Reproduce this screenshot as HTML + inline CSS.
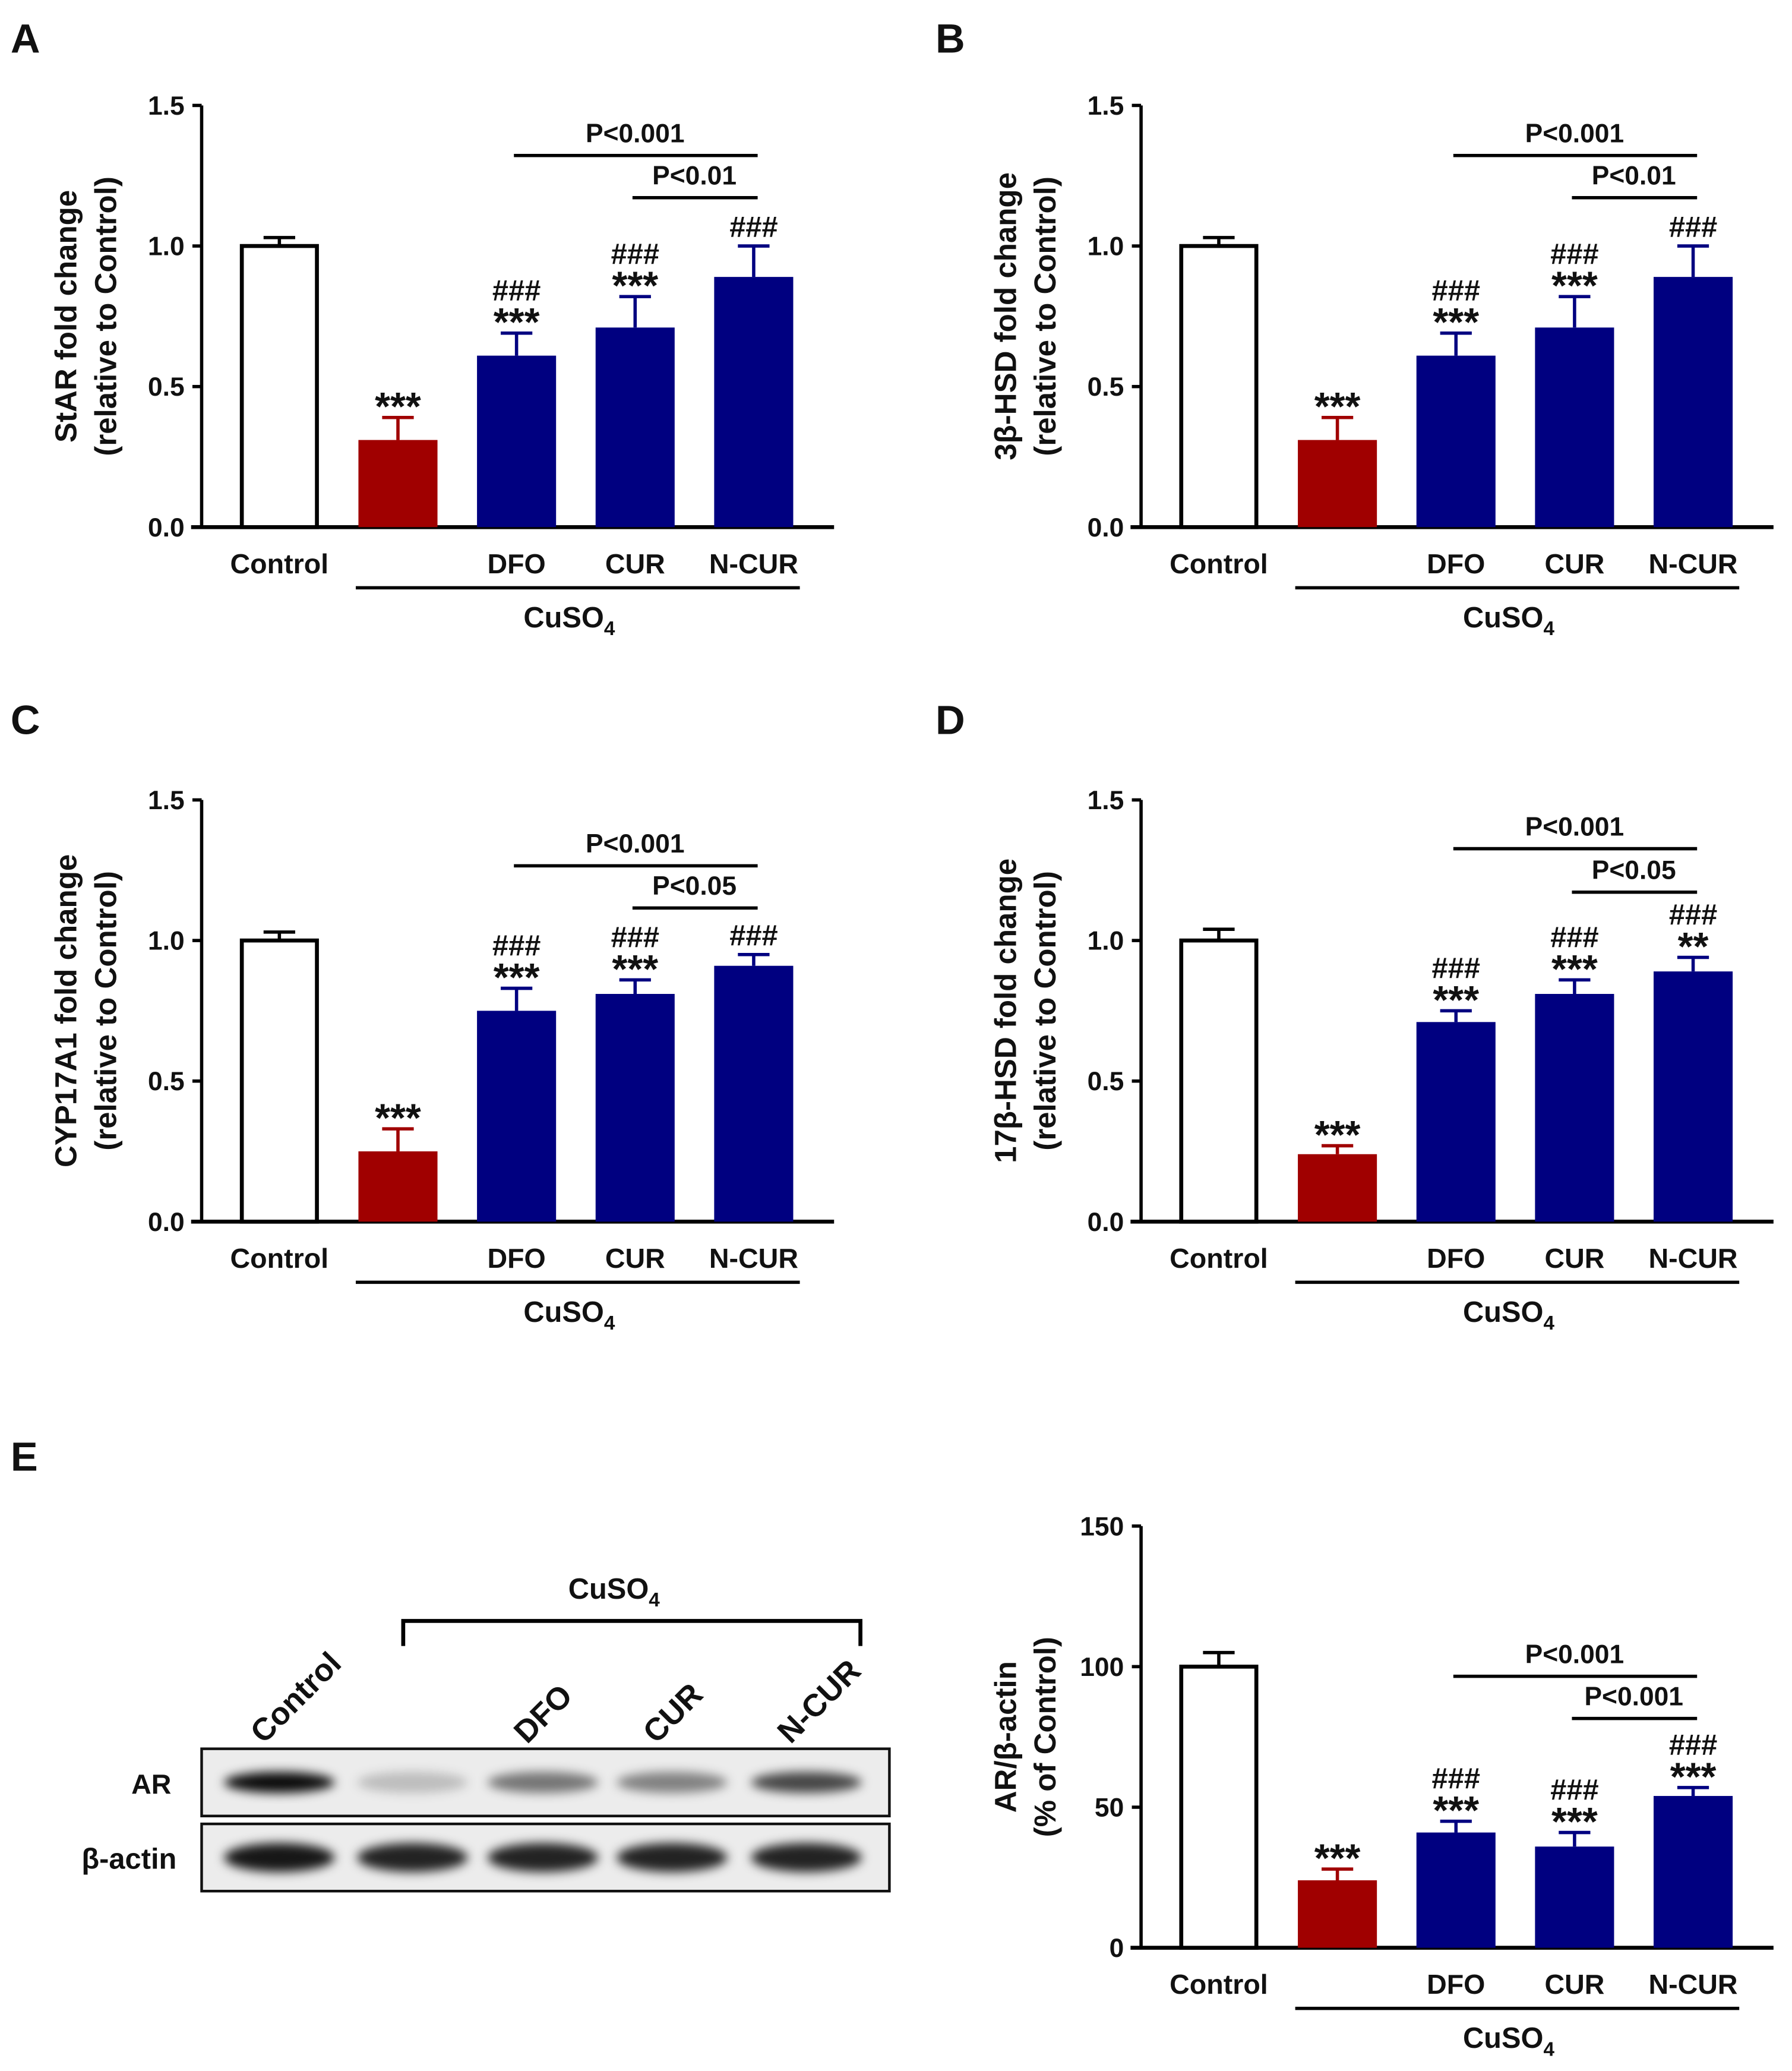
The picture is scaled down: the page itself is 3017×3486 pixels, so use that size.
<!DOCTYPE html>
<html><head><meta charset="utf-8"><style>
html,body{margin:0;padding:0;background:#fff}
svg{display:block}
text{font-family:"Liberation Sans",Arial,sans-serif;font-weight:bold;fill:#111}
</style></head><body>
<svg id="fig" xmlns="http://www.w3.org/2000/svg" width="3017" height="3486" viewBox="0 0 1360 1571.5">
<rect width="1360" height="1571.5" fill="#fff"/>
</svg>
<script>
const categories = ["Control","","DFO","CUR","N-CUR"];
const valuesA = [1.0,0.31,0.61,0.71,0.89];
const errorsA = [0.03,0.08,0.08,0.11,0.11];
const valuesB = [1.0,0.31,0.61,0.71,0.89];
const errorsB = [0.03,0.08,0.08,0.11,0.11];
const valuesC = [1.0,0.25,0.75,0.81,0.91];
const errorsC = [0.03,0.08,0.08,0.05,0.04];
const valuesD = [1.0,0.24,0.71,0.81,0.89];
const errorsD = [0.04,0.03,0.04,0.05,0.05];
const valuesE = [100,24,41,36,54];
const errorsE = [5,4,4,5,3];
const starsA = ["","***","***","***",""];
const hashA = ["","","###","###","###"];
const starsC = ["","***","***","***",""];
const hashC = ["","","###","###","###"];
const starsD = ["","***","***","***","**"];
const hashD = ["","","###","###","###"];
const starsE = ["","***","***","***","***"];
const hashE = ["","","###","###","###"];
const ticksFold = ["0.0","0.5","1.0","1.5"];
const ticksPct = ["0","50","100","150"];
const colors = ["#fff","#a00000","#000080","#000080","#000080"];

const NS="http://www.w3.org/2000/svg";
const svg=document.getElementById('fig');
function mk(tag,attrs,parent){const e=document.createElementNS(NS,tag);for(const k in attrs)e.setAttribute(k,attrs[k]);(parent||svg).appendChild(e);return e;}
function txt(s,x,y,size,anchor,parent){const t=mk('text',{x:x,y:y,'font-size':size,'text-anchor':anchor||'middle'},parent);t.textContent=s;return t;}

function panel(cfg){
  const g=mk('g',{});
  
  
  const x0=cfg.x, yTop=cfg.y, yBot=cfg.y+320, xEnd=x0+480;
  const ymax=parseFloat(cfg.ticks[cfg.ticks.length-1]);
  const yS=v=>yBot-(v/ymax)*320;
  const xS=i=>x0+59+i*90;
  const ya=mk('line',{x1:x0,y1:yTop,x2:x0,y2:yBot,stroke:'#000','stroke-width':2.5},g);
  
  const xa=mk('line',{x1:x0-8,y1:yBot,x2:xEnd,y2:yBot,stroke:'#000','stroke-width':3},g);
  
  cfg.ticks.forEach(t=>{const v=parseFloat(t);const y=yS(v);
    mk('line',{x1:x0-7,y1:y,x2:x0,y2:y,stroke:'#000','stroke-width':2.5},g);
    const l=txt(t,x0-13,y+7,20,'end',g);
    });
  const yt=mk('text',{transform:`translate(${x0-95},${yTop+160}) rotate(-90)`,'font-size':23,'text-anchor':'middle'},g);
  
  const t1=mk('tspan',{x:0,y:0},yt);t1.textContent=cfg.ylab1;
  const t2=mk('tspan',{x:0,y:30},yt);t2.textContent=cfg.ylab2;
  cfg.values.forEach((v,i)=>{
    const cx=xS(i), w=60, top=yS(v), e=yS(v+cfg.errors[i]);
    const stroke=i===0?'#000':colors[i];
    mk('line',{x1:cx,y1:top,x2:cx,y2:e,stroke:stroke,'stroke-width':2.5},g);
    mk('line',{x1:cx-12,y1:e,x2:cx+12,y2:e,stroke:stroke,'stroke-width':2.5},g);
    const b=mk('rect',{x:cx-w/2+(i===0?1.5:0),y:top,width:w-(i===0?3:0),height:yBot-top,fill:colors[i],stroke:i===0?'#000':'none','stroke-width':3},g);
    
    
    if(cfg.stars[i]){const s=txt(cfg.stars[i],cx,e+2,30,'middle',g);}
    if(cfg.hash[i]){const off=cfg.stars[i]?-25:-7;const h=txt(cfg.hash[i],cx,e+off,22,'middle',g);}
    if(categories[i]){const c=txt(categories[i],cx,yBot+35,21,'middle',g);}
  });
  mk('line',{x1:xS(1)-32,y1:yBot+46,x2:xS(4)+35,y2:yBot+46,stroke:'#000','stroke-width':2.5},g);
  const cu=txt('CuSO',(xS(1)+xS(4))/2-5,yBot+76,22,'middle',g);
  const sub=mk('tspan',{'font-size':15,dy:6},cu);sub.textContent='4';
  
  cfg.brackets.forEach(br=>{
    const l=mk('line',{x1:xS(br.a)-2,y1:br.y,x2:xS(br.b)+3,y2:br.y,stroke:'#000','stroke-width':2.5},g);
    
    const t=txt(br.label,(xS(br.a)+xS(br.b))/2,br.y-10,20,'middle',g);
    
  });
  const pl=txt(cfg.letter,cfg.lx,cfg.ly,31,'start',g);
  
}

panel({name:'panel-a-star',x:153,y:80,values:valuesA,errors:errorsA,stars:starsA,hash:hashA,ticks:ticksFold,ylab1:'StAR fold change',ylab2:'(relative to Control)',letter:'A',lx:8,ly:40,brackets:[{a:2,b:4,y:118,label:'P<0.001'},{a:3,b:4,y:150,label:'P<0.01'}]});
panel({name:'panel-b-3bhsd',x:866,y:80,values:valuesB,errors:errorsB,stars:starsA,hash:hashA,ticks:ticksFold,ylab1:'3β-HSD fold change',ylab2:'(relative to Control)',letter:'B',lx:710,ly:40,brackets:[{a:2,b:4,y:118,label:'P<0.001'},{a:3,b:4,y:150,label:'P<0.01'}]});
panel({name:'panel-c-cyp17a1',x:153,y:607,values:valuesC,errors:errorsC,stars:starsC,hash:hashC,ticks:ticksFold,ylab1:'CYP17A1 fold change',ylab2:'(relative to Control)',letter:'C',lx:8,ly:557,brackets:[{a:2,b:4,y:657,label:'P<0.001'},{a:3,b:4,y:689,label:'P<0.05'}]});
panel({name:'panel-d-17bhsd',x:866,y:607,values:valuesD,errors:errorsD,stars:starsD,hash:hashD,ticks:ticksFold,ylab1:'17β-HSD fold change',ylab2:'(relative to Control)',letter:'D',lx:710,ly:557,brackets:[{a:2,b:4,y:644,label:'P<0.001'},{a:3,b:4,y:677,label:'P<0.05'}]});
panel({name:'panel-e-ar-quant',x:866,y:1158,values:valuesE,errors:errorsE,stars:starsE,hash:hashE,ticks:ticksPct,ylab1:'AR/β-actin',ylab2:'(% of Control)',letter:'E',lx:8,ly:1116,brackets:[{a:2,b:4,y:1272,label:'P<0.001'},{a:3,b:4,y:1304,label:'P<0.001'}]});

const lanes = ["Control","","DFO","CUR","N-CUR"];
const arIntensity = [0.95,0.2,0.5,0.45,0.7];
const actinIntensity = [0.9,0.85,0.85,0.85,0.85];
const laneX=[212,313,412,510,612];
const blot=mk('g',{});


const defs=mk('defs',{});
const f=mk('filter',{id:'blur',x:'-50%',y:'-50%',width:'200%',height:'200%'},defs);
mk('feGaussianBlur',{stdDeviation:4},f);
[[1327,1378,arIntensity,'ar-blot'],[1384,1435,actinIntensity,'actin-blot']].forEach(([y1,y2,arr,nm])=>{
  const r=mk('rect',{x:153,y:y1,width:522,height:y2-y1,fill:'#ececec',stroke:'#111','stroke-width':2},blot);
  
  arr.forEach((v,i)=>{
    const b=mk('ellipse',{cx:laneX[i],cy:(y1+y2)/2,rx:42,ry:nm==='ar-blot'?8:11,fill:'#000','fill-opacity':v,filter:'url(#blur)'},blot);
    
  });
});
const arl=txt('AR',130,1361,21,'end',blot);
const acl=txt('β-actin',134,1418,22,'end',blot);
lanes.forEach((l,i)=>{if(!l)return;
  const t=mk('text',{transform:`translate(${laneX[i]-12},${1324}) rotate(-45)`,'font-size':24,'text-anchor':'start'},blot);
  t.textContent=l;});
mk('path',{d:'M306,1249 V1230 H653 V1249',fill:'none',stroke:'#000','stroke-width':3},blot);
const bc=txt('CuSO',466,1213,22,'middle',blot);
const bs=mk('tspan',{'font-size':15,dy:6},bc);bs.textContent='4';

</script>
</body></html>
